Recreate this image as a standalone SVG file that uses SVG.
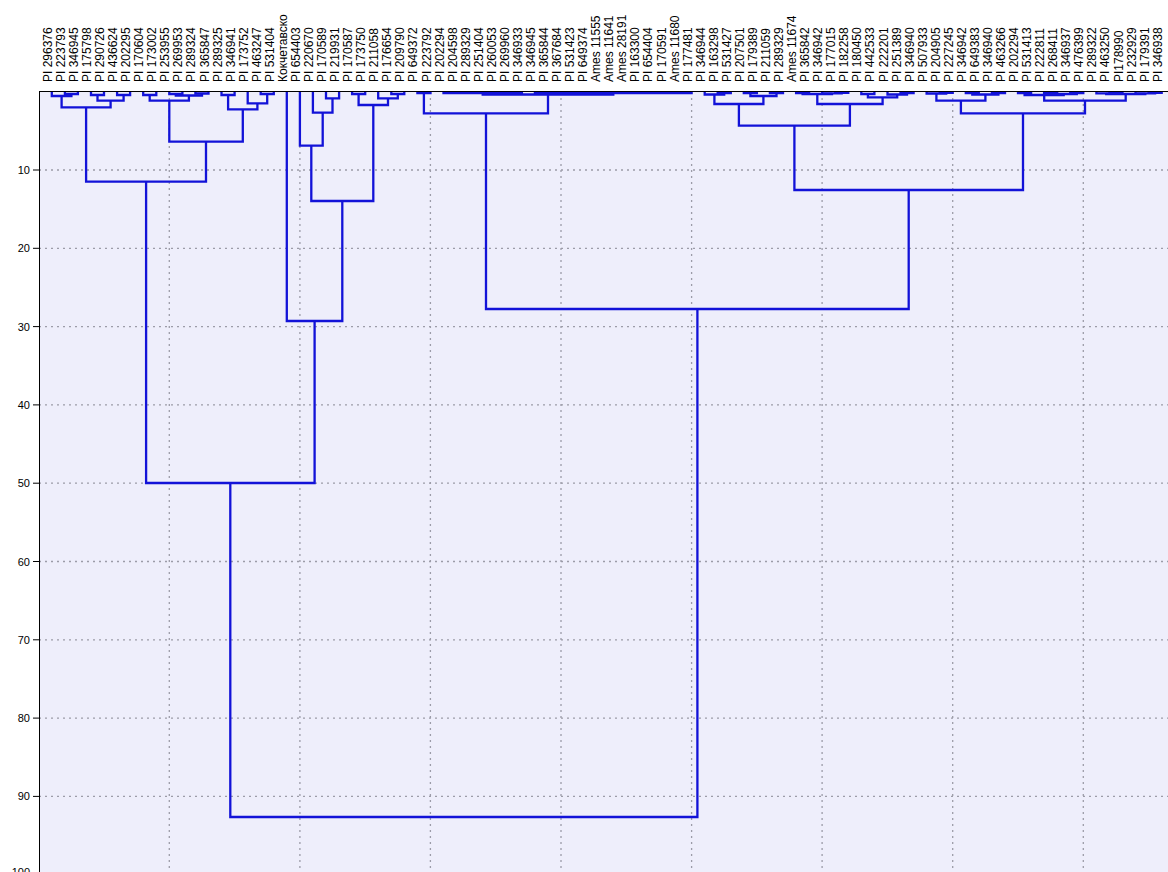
<svg xmlns="http://www.w3.org/2000/svg" width="1168" height="872" viewBox="0 0 1168 872">
<style>
.lbl{font-family:"Liberation Sans",Arial,sans-serif;font-size:12px;fill:#000}
.tick{font-family:"Liberation Sans",Arial,sans-serif;font-size:11px;fill:#000;text-anchor:end}
.grid{stroke:#9c9ca8;stroke-width:1.3;stroke-dasharray:2 4;fill:none}
.br{stroke:#1212d8;stroke-width:2.3;fill:none;stroke-linejoin:miter}
.ax{stroke:#000;stroke-width:1;fill:none}
</style>
<rect x="0" y="0" width="1168" height="872" fill="#ffffff"/>
<rect x="39" y="91.7" width="1129" height="781" fill="#eeeefb"/>
<g id="grid">
<path class="grid" d="M39,170H1168M39,248.3H1168M39,326.6H1168M39,404.9H1168M39,483.2H1168M39,561.5H1168M39,639.8H1168M39,718.1H1168M39,796.4H1168"/>
<path class="grid" d="M169.3,92V872M299.9,92V872M430.4,92V872M561,92V872M691.6,92V872M822.1,92V872M952.7,92V872M1083.3,92V872"/>
</g>
<g id="axis">
<path class="ax" d="M33,170H39M33,248.3H39M33,326.6H39M33,404.9H39M33,483.2H39M33,561.5H39M33,639.8H39M33,718.1H39M33,796.4H39M33,874.7H39"/>
<text class="tick" x="30" y="174">10</text>
<text class="tick" x="30" y="252.3">20</text>
<text class="tick" x="30" y="330.6">30</text>
<text class="tick" x="30" y="408.9">40</text>
<text class="tick" x="30" y="487.2">50</text>
<text class="tick" x="30" y="565.5">60</text>
<text class="tick" x="30" y="643.8">70</text>
<text class="tick" x="30" y="722.1">80</text>
<text class="tick" x="30" y="800.4">90</text>
<text class="tick" x="30" y="876">100</text>
</g>
<g id="connectors">
<path class="br" d="M64.9,91.7V94H77.9V91.7"/>
<path class="br" d="M51.8,91.7V96H71.4V94"/>
<path class="br" d="M91,91.7V95H104V91.7"/>
<path class="br" d="M117.1,91.7V95H130.1V91.7"/>
<path class="br" d="M97.5,95V100.7H123.6V95"/>
<path class="br" d="M61.6,96V107.3H110.6V100.7"/>
<path class="br" d="M143.2,91.7V95H156.3V91.7"/>
<path class="br" d="M169.3,91.7V94H182.4V91.7"/>
<path class="br" d="M195.4,91.7V93.5H208.5V91.7"/>
<path class="br" d="M175.8,94V95.5H202V93.5"/>
<path class="br" d="M149.7,95V100.7H188.9V95.5"/>
<path class="br" d="M221.5,91.7V95H234.6V91.7"/>
<path class="br" d="M260.7,91.7V94H273.8V91.7"/>
<path class="br" d="M247.7,91.7V103.3H267.2V94"/>
<path class="br" d="M228.1,95V109.3H257.4V103.3"/>
<path class="br" d="M169.3,100.7V141.7H242.8V109.3"/>
<path class="br" d="M86.1,107.3V181.7H206V141.7"/>
<path class="br" d="M326,91.7V98.3H339.1V91.7"/>
<path class="br" d="M312.9,91.7V112.7H332.5V98.3"/>
<path class="br" d="M299.9,91.7V145.7H322.7V112.7"/>
<path class="br" d="M352.1,91.7V94H365.2V91.7"/>
<path class="br" d="M391.3,91.7V94H404.3V91.7"/>
<path class="br" d="M378.2,91.7V98.3H397.8V94"/>
<path class="br" d="M358.6,94V105H388V98.3"/>
<path class="br" d="M311.3,145.7V201H373.3V105"/>
<path class="br" d="M286.8,91.7V321H342.3V201"/>
<path class="br" d="M146.1,181.7V483H314.6V321"/>
<path class="br" d="M417.4,91.7V93H430.5V91.7"/>
<path class="br" d="M443.5,91.7V93H521.9V91.7"/>
<path class="br" d="M534.9,91.7V93H691.6V91.7"/>
<path class="br" d="M482.7,93V94.5H613.3V93"/>
<path class="br" d="M423.9,93V113.3H548V94.5"/>
<path class="br" d="M717.7,91.7V93H730.8V91.7"/>
<path class="br" d="M704.7,91.7V94.5H724.2V93"/>
<path class="br" d="M743.8,91.7V93H756.9V91.7"/>
<path class="br" d="M769.9,91.7V93H783V91.7"/>
<path class="br" d="M750.4,93V96H776.5V93"/>
<path class="br" d="M714.4,94.5V104H763.4V96"/>
<path class="br" d="M796.1,91.7V93H809.1V91.7"/>
<path class="br" d="M835.2,91.7V92.8H848.3V91.7"/>
<path class="br" d="M822.2,91.7V93.3H841.7V92.8"/>
<path class="br" d="M802.6,93V94H832V93.3"/>
<path class="br" d="M861.3,91.7V94H874.4V91.7"/>
<path class="br" d="M900.5,91.7V93H913.6V91.7"/>
<path class="br" d="M887.5,91.7V94.5H907V93"/>
<path class="br" d="M867.9,94V97.3H897.2V94.5"/>
<path class="br" d="M817.3,94V104H882.6V97.3"/>
<path class="br" d="M738.9,104V125.7H849.9V104"/>
<path class="br" d="M939.7,91.7V92.8H952.7V91.7"/>
<path class="br" d="M926.6,91.7V93.5H946.2V92.8"/>
<path class="br" d="M965.8,91.7V93H978.8V91.7"/>
<path class="br" d="M991.9,91.7V93H1005V91.7"/>
<path class="br" d="M972.3,93V94.5H998.4V93"/>
<path class="br" d="M936.4,93.5V100.7H985.4V94.5"/>
<path class="br" d="M1018,91.7V93H1031.1V91.7"/>
<path class="br" d="M1044.1,91.7V93H1057.2V91.7"/>
<path class="br" d="M1070.2,91.7V93H1083.3V91.7"/>
<path class="br" d="M1050.7,93V94H1076.8V93"/>
<path class="br" d="M1024.6,93V95H1063.7V94"/>
<path class="br" d="M1109.4,91.7V92.8H1122.5V91.7"/>
<path class="br" d="M1096.4,91.7V93.3H1115.9V92.8"/>
<path class="br" d="M1148.6,91.7V92.8H1161.7V91.7"/>
<path class="br" d="M1135.5,91.7V93.3H1155.1V92.8"/>
<path class="br" d="M1106.2,93.3V94H1145.3V93.3"/>
<path class="br" d="M1044.2,95V100.7H1125.7V94"/>
<path class="br" d="M960.9,100.7V113.3H1085V100.7"/>
<path class="br" d="M794.4,125.7V190H1023V113.3"/>
<path class="br" d="M486,113.3V309H908.7V190"/>
<path class="br" d="M230.3,483V817H697.4V309"/>
</g>
<path class="ax" d="M39,91.5H1168M39.5,91.5V872"/>
<g id="labels" class="lbl">
<text transform="translate(51.8 82) rotate(-90)">PI 296376</text>
<text transform="translate(64.9 82) rotate(-90)">PI 223793</text>
<text transform="translate(77.9 82) rotate(-90)">PI 346945</text>
<text transform="translate(91 82) rotate(-90)">PI 175798</text>
<text transform="translate(104 82) rotate(-90)">PI 290726</text>
<text transform="translate(117.1 82) rotate(-90)">PI 436624</text>
<text transform="translate(130.1 82) rotate(-90)">PI 202295</text>
<text transform="translate(143.2 82) rotate(-90)">PI 170604</text>
<text transform="translate(156.3 82) rotate(-90)">PI 173002</text>
<text transform="translate(169.3 82) rotate(-90)">PI 253955</text>
<text transform="translate(182.4 82) rotate(-90)">PI 269953</text>
<text transform="translate(195.4 82) rotate(-90)">PI 289324</text>
<text transform="translate(208.5 82) rotate(-90)">PI 365847</text>
<text transform="translate(221.5 82) rotate(-90)">PI 289325</text>
<text transform="translate(234.6 82) rotate(-90)">PI 346941</text>
<text transform="translate(247.7 82) rotate(-90)">PI 173752</text>
<text transform="translate(260.7 82) rotate(-90)">PI 463247</text>
<text transform="translate(273.8 82) rotate(-90)">PI 531404</text>
<text transform="translate(286.8 82) rotate(-90)">Кокчетавско</text>
<text transform="translate(299.9 82) rotate(-90)">PI 654403</text>
<text transform="translate(312.9 82) rotate(-90)">PI 220670</text>
<text transform="translate(326 82) rotate(-90)">PI 170589</text>
<text transform="translate(339.1 82) rotate(-90)">PI 219931</text>
<text transform="translate(352.1 82) rotate(-90)">PI 170587</text>
<text transform="translate(365.2 82) rotate(-90)">PI 173750</text>
<text transform="translate(378.2 82) rotate(-90)">PI 211058</text>
<text transform="translate(391.3 82) rotate(-90)">PI 176654</text>
<text transform="translate(404.3 82) rotate(-90)">PI 209790</text>
<text transform="translate(417.4 82) rotate(-90)">PI 649372</text>
<text transform="translate(430.5 82) rotate(-90)">PI 223792</text>
<text transform="translate(443.5 82) rotate(-90)">PI 202294</text>
<text transform="translate(456.6 82) rotate(-90)">PI 204598</text>
<text transform="translate(469.6 82) rotate(-90)">PI 289329</text>
<text transform="translate(482.7 82) rotate(-90)">PI 251404</text>
<text transform="translate(495.7 82) rotate(-90)">PI 260053</text>
<text transform="translate(508.8 82) rotate(-90)">PI 269960</text>
<text transform="translate(521.9 82) rotate(-90)">PI 346933</text>
<text transform="translate(534.9 82) rotate(-90)">PI 346945</text>
<text transform="translate(548 82) rotate(-90)">PI 365844</text>
<text transform="translate(561 82) rotate(-90)">PI 367684</text>
<text transform="translate(574.1 82) rotate(-90)">PI 531423</text>
<text transform="translate(587.1 82) rotate(-90)">PI 649374</text>
<text transform="translate(600.2 82) rotate(-90)">Ames 11555</text>
<text transform="translate(613.3 82) rotate(-90)">Ames 11641</text>
<text transform="translate(626.3 82) rotate(-90)">Ames 28191</text>
<text transform="translate(639.4 82) rotate(-90)">PI 163300</text>
<text transform="translate(652.4 82) rotate(-90)">PI 654404</text>
<text transform="translate(665.5 82) rotate(-90)">PI 170591</text>
<text transform="translate(678.5 82) rotate(-90)">Ames 11680</text>
<text transform="translate(691.6 82) rotate(-90)">PI 177481</text>
<text transform="translate(704.7 82) rotate(-90)">PI 346944</text>
<text transform="translate(717.7 82) rotate(-90)">PI 163298</text>
<text transform="translate(730.8 82) rotate(-90)">PI 531427</text>
<text transform="translate(743.8 82) rotate(-90)">PI 207501</text>
<text transform="translate(756.9 82) rotate(-90)">PI 179389</text>
<text transform="translate(769.9 82) rotate(-90)">PI 211059</text>
<text transform="translate(783 82) rotate(-90)">PI 289329</text>
<text transform="translate(796.1 82) rotate(-90)">Ames 11674</text>
<text transform="translate(809.1 82) rotate(-90)">PI 365842</text>
<text transform="translate(822.2 82) rotate(-90)">PI 346942</text>
<text transform="translate(835.2 82) rotate(-90)">PI 177015</text>
<text transform="translate(848.3 82) rotate(-90)">PI 182258</text>
<text transform="translate(861.3 82) rotate(-90)">PI 180450</text>
<text transform="translate(874.4 82) rotate(-90)">PI 442533</text>
<text transform="translate(887.5 82) rotate(-90)">PI 222201</text>
<text transform="translate(900.5 82) rotate(-90)">PI 251389</text>
<text transform="translate(913.6 82) rotate(-90)">PI 346940</text>
<text transform="translate(926.6 82) rotate(-90)">PI 507933</text>
<text transform="translate(939.7 82) rotate(-90)">PI 204905</text>
<text transform="translate(952.7 82) rotate(-90)">PI 227245</text>
<text transform="translate(965.8 82) rotate(-90)">PI 346942</text>
<text transform="translate(978.8 82) rotate(-90)">PI 649383</text>
<text transform="translate(991.9 82) rotate(-90)">PI 346940</text>
<text transform="translate(1005 82) rotate(-90)">PI 463266</text>
<text transform="translate(1018 82) rotate(-90)">PI 202294</text>
<text transform="translate(1031.1 82) rotate(-90)">PI 531413</text>
<text transform="translate(1044.1 82) rotate(-90)">PI 222811</text>
<text transform="translate(1057.2 82) rotate(-90)">PI 268411</text>
<text transform="translate(1070.2 82) rotate(-90)">PI 346937</text>
<text transform="translate(1083.3 82) rotate(-90)">PI 476399</text>
<text transform="translate(1096.4 82) rotate(-90)">PI 289322</text>
<text transform="translate(1109.4 82) rotate(-90)">PI 463250</text>
<text transform="translate(1122.5 82) rotate(-90)">PI178990</text>
<text transform="translate(1135.5 82) rotate(-90)">PI 232929</text>
<text transform="translate(1148.6 82) rotate(-90)">PI 179391</text>
<text transform="translate(1161.7 82) rotate(-90)">PI 346938</text>
</g>
</svg>
